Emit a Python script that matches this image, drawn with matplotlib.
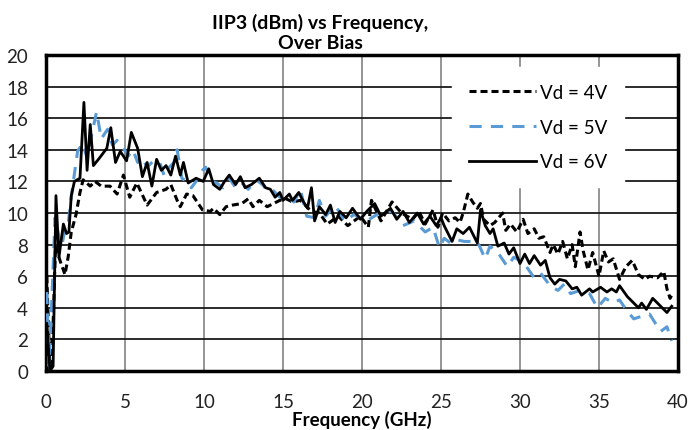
import matplotlib
matplotlib.use("Agg")
import matplotlib.pyplot as plt

plt.rcParams['font.family'] = ['Lato', 'DejaVu Sans']

# Vd = 6V (solid black)
f6 = [0.05, 0.25, 0.45, 0.63, 0.82, 1.1, 1.3, 1.45, 1.6, 1.8, 2.15, 2.4, 2.6, 2.8, 3.0, 3.4, 3.85, 4.1,
      4.4, 4.7, 5.1, 5.4, 5.8, 6.1, 6.4, 6.7, 7.0, 7.3, 7.6, 7.9, 8.2, 8.5, 8.7, 9.0, 9.5, 9.95, 10.3,
      10.6, 11.0, 11.3, 11.6, 12.0, 12.3, 12.6, 13.0, 13.5, 13.9, 14.2, 14.5, 14.8, 15.0, 15.4, 15.6,
      16.0, 16.3, 16.55, 16.8, 17.0, 17.3, 17.7, 18.0, 18.3, 18.6, 19.0, 19.4, 19.9, 20.3, 20.8, 21.2,
      21.8, 22.2, 22.6, 23.0, 23.5, 23.9, 24.3, 24.7, 25.0, 25.2, 25.7, 26.0, 26.4, 26.8, 27.3, 27.5,
      27.8, 28.1, 28.3, 28.6, 29.0, 29.3, 29.6, 30.0, 30.3, 30.6, 30.9, 31.3, 31.6, 31.9, 32.2, 32.5,
      32.9, 33.3, 33.6, 33.9, 34.4, 34.6, 35.1, 35.5, 35.8, 36.1, 36.3, 36.8, 37.2, 37.5, 37.7, 38.0,
      38.4, 38.8, 39.3, 39.6]
v6 = [3.0, 0.0, 0.3, 11.1, 7.2, 9.3, 8.7, 8.8, 11.1, 12.0, 12.2, 17.0, 12.7, 15.6, 13.0, 13.5, 14.1, 15.4,
      13.2, 13.9, 13.3, 15.1, 14.1, 12.3, 13.2, 11.7, 13.4, 12.7, 13.0, 12.4, 13.6, 12.4, 13.2, 11.9, 12.2, 12.0, 12.8,
      11.8, 11.5, 12.0, 12.4, 11.8, 12.3, 11.6, 11.8, 12.2, 11.6, 11.5, 11.0, 11.3, 10.8, 11.2, 10.8,
      11.3, 10.7, 10.3, 11.6, 9.5, 10.4, 9.9, 10.5, 9.4, 10.1, 9.7, 10.3, 9.6, 10.1, 10.6, 9.8,
      10.3, 9.6, 10.1, 9.4, 10.0, 9.3, 9.8, 9.2, 9.7, 9.2, 8.2, 9.0, 8.7, 9.1, 8.1, 10.2,
      9.2, 8.7, 9.0, 7.9, 8.1, 7.4, 7.8, 6.8, 7.4, 6.8, 7.3, 6.7, 7.0, 5.9, 5.5, 5.8,
      5.7, 5.2, 5.3, 4.8, 5.2, 5.0, 5.3, 5.0, 5.2, 5.0, 5.4, 4.7, 4.3, 4.0, 4.3, 3.9,
      4.6, 4.2, 3.7, 4.1]

# Vd = 4V (black short dashes)
f4 = [0.05, 0.25, 0.45, 0.6, 0.85, 1.2, 1.4, 1.6, 1.9, 2.15, 2.35, 2.8, 3.1, 3.5, 4.05, 4.5, 4.9, 5.3,
      5.75, 6.4, 7.0, 7.6, 7.9, 8.3, 8.5, 8.9, 9.3, 9.5, 9.9, 10.4, 10.6, 11.0, 11.4, 11.8, 12.4, 12.8,
      13.1, 13.5, 14.0, 14.4, 14.8, 15.2, 15.6, 16.1, 16.5, 16.8, 17.3, 17.8, 18.5, 19.1, 19.9, 20.4,
      20.6, 21.2, 21.9, 22.5, 23.2, 23.6, 24.0, 24.5, 24.8, 25.1, 25.5, 25.9, 26.2, 26.4, 26.7, 27.0,
      27.3, 27.5, 27.7, 28.1, 28.4, 28.9, 29.1, 29.4, 29.8, 30.2, 30.5, 30.9, 31.2, 31.5, 31.9, 32.1,
      32.4, 32.7, 33.0, 33.3, 33.5, 33.8, 34.0, 34.3, 34.6, 35.0, 35.3, 35.6, 35.9, 36.3, 36.7, 37.1,
      37.5, 37.9, 38.2, 38.7, 39.1, 39.3, 39.5, 39.6]
v4 = [6.0, 0.0, 3.0, 7.9, 7.1, 6.1, 7.2, 8.8, 9.9, 11.3, 12.1, 11.7, 12.0, 11.7, 11.7, 11.2, 12.4, 11.0,
      11.9, 10.5, 11.3, 11.5, 11.8, 10.8, 10.4, 11.2, 11.1, 10.8, 10.2, 10.1, 10.3, 9.9, 10.4, 10.5, 10.6, 10.9,
      10.4, 10.8, 10.4, 10.6, 10.8, 10.9, 10.7, 10.8, 10.4, 10.1, 10.0, 9.3, 9.8, 9.2, 9.8, 9.1,
      10.8, 9.5, 10.7, 10.0, 9.6, 10.1, 9.3, 10.2, 9.1, 10.0, 9.5, 9.7, 9.4, 10.0, 11.2, 10.7,
      10.3, 10.6, 9.6, 9.2, 9.4, 10.0, 8.9, 9.3, 8.8, 9.6, 8.7, 9.0, 8.4, 8.5, 7.5, 8.0,
      7.4, 8.2, 7.1, 8.0, 6.6, 8.8, 7.6, 6.4, 7.5, 6.0, 7.6, 6.9, 7.1, 5.8, 6.6, 7.0,
      6.1, 5.8, 6.0, 5.9, 6.3, 5.2, 4.6, 4.8]

# Vd = 5V (blue long dashes)
f5 = [0.05, 0.2, 0.35, 0.57, 0.8, 1.0, 1.2, 1.4, 1.6, 1.8, 2.0, 2.3, 2.6, 2.9, 3.2, 3.5, 3.9, 4.2, 4.5,
      4.9, 5.2, 5.5, 5.8, 6.1, 6.4, 6.8, 7.2, 7.5, 7.8, 8.1, 8.3, 8.6, 8.9, 9.2, 9.5, 9.9, 10.1, 10.5,
      10.8, 11.2, 11.6, 12.0, 12.4, 12.8, 13.3, 13.7, 14.0, 14.4, 14.8, 15.4, 15.7, 16.0, 16.1, 16.5,
      17.0, 17.3, 17.7, 18.3, 18.9, 19.5, 20.3, 21.1, 21.9, 22.6, 23.3, 24.0, 24.5, 24.9, 25.2, 25.6,
      26.0, 26.5, 27.3, 27.8, 28.1, 28.6, 29.2, 29.6, 30.2, 30.9, 31.3, 31.9, 32.4, 32.8, 33.2, 33.8,
      34.4, 34.9, 35.4, 35.9, 36.3, 36.7, 37.2, 37.8, 38.2, 38.9, 39.3, 39.6]
v5 = [5.0, 0.3, 4.0, 9.7, 8.6, 7.9, 9.0, 9.3, 11.0, 12.5, 13.9, 14.4, 13.5, 15.0, 16.4, 14.7, 15.3, 14.3, 14.6,
      14.1, 13.6, 14.0, 13.2, 13.5, 12.9, 13.3, 13.2, 12.3, 12.9, 13.2, 14.0, 12.2, 12.0, 11.6, 12.0, 12.7, 12.9, 12.0,
      11.9, 11.6, 12.2, 11.6, 11.9, 11.5, 12.1, 11.8, 11.4, 11.4, 11.0, 10.9, 10.7, 11.3, 11.5, 9.8,
      9.7, 10.8, 9.8, 10.5, 9.5, 9.9, 9.5, 10.0, 10.1, 9.2, 9.5, 8.8, 9.1, 7.8, 8.4, 8.1,
      8.3, 8.2, 8.2, 7.1, 7.9, 7.5, 6.6, 7.2, 6.9, 5.9, 6.2, 5.4, 5.1, 5.5, 4.9, 5.1,
      4.9, 4.0, 4.6, 4.3, 4.5, 3.9, 3.3, 3.5, 3.6, 2.5, 2.8, 1.9]

labels = ["Vd = 4V", "Vd = 5V", "Vd = 6V"]
x_ticks = [0, 5, 10, 15, 20, 25, 30, 35, 40]
y_ticks = [0, 2, 4, 6, 8, 10, 12, 14, 16, 18, 20]

fig = plt.figure(figsize=(6.9, 4.31), dpi=100)
ax = fig.add_axes([46/690, 1-372/431, 632/690, 316/431])

ax.plot(f4, v4, color='black', lw=2.2, linestyle=(0, (2.3, 1.3)), label=labels[0], zorder=3)
ax.plot(f5, v5, color='#5B9BD5', lw=2.2, linestyle=(0, (4, 3)), label=labels[1], zorder=3)
ax.plot(f6, v6, color='black', lw=2.0, linestyle='-', label=labels[2], zorder=4)

ax.set_xlim(0, 40)
ax.set_ylim(0, 20)
ax.set_xticks(x_ticks)
ax.set_yticks(y_ticks)
ax.tick_params(axis='x', length=0, labelsize=13.5, pad=16)
ax.tick_params(axis='y', length=0, labelsize=13.5, pad=13)
for lab in ax.get_yticklabels() + ax.get_xticklabels():
    lab.set_color('#222222')

ax.xaxis.grid(True, color='#8c8c8c', lw=1.3)
ax.yaxis.grid(True, color='#1a1a1a', lw=1.3)
ax.set_axisbelow(True)
for s in ax.spines.values():
    s.set_linewidth(2.5)
    s.set_color('black')

ax.set_xlabel("Frequency (GHz)", fontsize=13.5, fontweight='bold', labelpad=0)

fig.text(320/690, 1-33/431, "IIP3 (dBm) vs Frequency,\nOver Bias", ha='center', va='center',
         fontsize=14, fontweight='bold', linespacing=1.25)

leg = ax.legend(loc='upper left', bbox_to_anchor=(452/690, 1-68/431), bbox_transform=fig.transFigure,
                frameon=True, fancybox=False, edgecolor='white', facecolor='white', framealpha=1,
                fontsize=13.5, handlelength=3.6, handletextpad=0.2, labelspacing=0.95, borderpad=0.9,
                borderaxespad=0)
leg.set_zorder(5)

fig.savefig("out.png", dpi=100)
